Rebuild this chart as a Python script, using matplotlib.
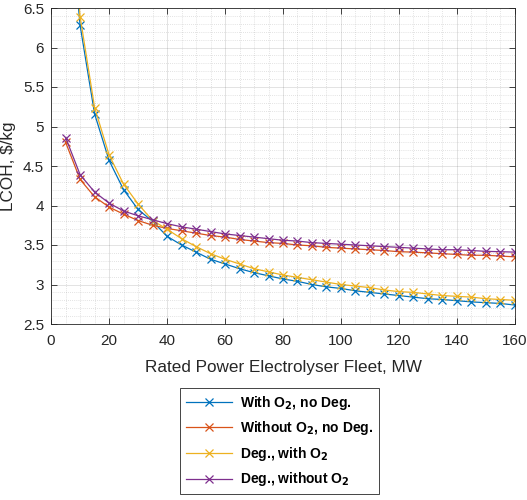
import matplotlib
matplotlib.use('Agg')
import matplotlib.pyplot as plt
import numpy as np
from matplotlib.ticker import MultipleLocator

plt.rcParams['font.family'] = ['Liberation Sans', 'DejaVu Sans']

power = np.arange(5, 165, 5)

with_o2_no_deg = [8.3, 6.28, 5.16, 4.57, 4.20, 3.95, 3.80, 3.61, 3.50, 3.41,
                  3.32, 3.26, 3.20, 3.15, 3.11, 3.07, 3.04, 3.00, 2.97, 2.95,
                  2.92, 2.90, 2.88, 2.86, 2.84, 2.82, 2.81, 2.795, 2.78, 2.77,
                  2.76, 2.74]
without_o2_no_deg = [4.80, 4.33, 4.11, 3.98, 3.89, 3.81, 3.75, 3.71, 3.68, 3.65,
                     3.62, 3.60, 3.57, 3.55, 3.53, 3.52, 3.50, 3.49, 3.47, 3.46,
                     3.45, 3.44, 3.43, 3.415, 3.41, 3.40, 3.39, 3.38, 3.37, 3.37,
                     3.36, 3.35]
deg_with_o2 = [8.45, 6.39, 5.24, 4.64, 4.27, 4.02, 3.81, 3.70, 3.58, 3.48,
               3.39, 3.32, 3.26, 3.20, 3.16, 3.12, 3.09, 3.06, 3.03, 3.00,
               2.98, 2.96, 2.93, 2.91, 2.90, 2.88, 2.86, 2.85, 2.84, 2.82,
               2.81, 2.80]
deg_without_o2 = [4.86, 4.39, 4.17, 4.03, 3.93, 3.87, 3.82, 3.77, 3.73, 3.70,
                  3.67, 3.64, 3.62, 3.60, 3.58, 3.56, 3.55, 3.53, 3.52, 3.51,
                  3.50, 3.49, 3.48, 3.47, 3.46, 3.45, 3.44, 3.44, 3.43, 3.42,
                  3.415, 3.41]

series = [
    (with_o2_no_deg, '#0072BD', r'With O$_\mathbf{2}$, no Deg.'),
    (without_o2_no_deg, '#D95319', r'Without O$_\mathbf{2}$, no Deg.'),
    (deg_with_o2, '#EDB120', r'Deg., with O$_\mathbf{2}$'),
    (deg_without_o2, '#7E2F8E', r'Deg., without O$_\mathbf{2}$'),
]

fig = plt.figure(figsize=(5.27, 5.0), dpi=100)
ax = fig.add_axes([0.097, 0.352, 0.880, 0.632])

for vals, col, lab in series:
    ax.plot(power, vals, color=col, marker='x', markersize=6, lw=0.9,
            mew=0.9, label=lab)

ax.set_xlim(0, 160)
ax.set_ylim(2.5, 6.5)
ax.xaxis.set_major_locator(MultipleLocator(20))
ax.xaxis.set_minor_locator(MultipleLocator(5))
ax.yaxis.set_minor_locator(MultipleLocator(0.1))
ax.set_yticks(np.arange(2.5, 6.51, 0.5))
ax.set_yticklabels(['2.5', '3', '3.5', '4', '4.5', '5', '5.5', '6', '6.5'])

ax.grid(True, which='major', color='#262626', alpha=0.15, lw=0.6)
ax.grid(True, which='minor', color='#262626', alpha=0.25, lw=0.5, ls=(0, (1, 2)))
ax.tick_params(which='both', direction='in', top=True, right=True,
               colors='#262626', labelsize=11)
ax.tick_params(which='major', length=4, width=0.6)
ax.tick_params(axis='x', which='major', pad=7.5)
ax.tick_params(axis='y', which='major', pad=5)
ax.tick_params(which='minor', length=0)
for sp in ax.spines.values():
    sp.set_color('#262626')
    sp.set_linewidth(0.6)

ax.set_xlabel('Rated Power Electrolyser Fleet, MW', fontsize=12.3,
              color='#262626', labelpad=8)
ax.set_ylabel(r'LCOH, \$/kg', fontsize=12.3, color='#262626', labelpad=5)

leg = fig.legend(loc='upper left', bbox_to_anchor=(0.342, 0.224),
                 prop={'weight': 'bold', 'size': 10}, fancybox=False,
                 framealpha=1, edgecolor='#262626', handlelength=3.3,
                 borderpad=0.4, labelspacing=0.55, handletextpad=0.6,
                 borderaxespad=0)
leg.get_frame().set_linewidth(0.6)

fig.savefig('out.png', dpi=100)
